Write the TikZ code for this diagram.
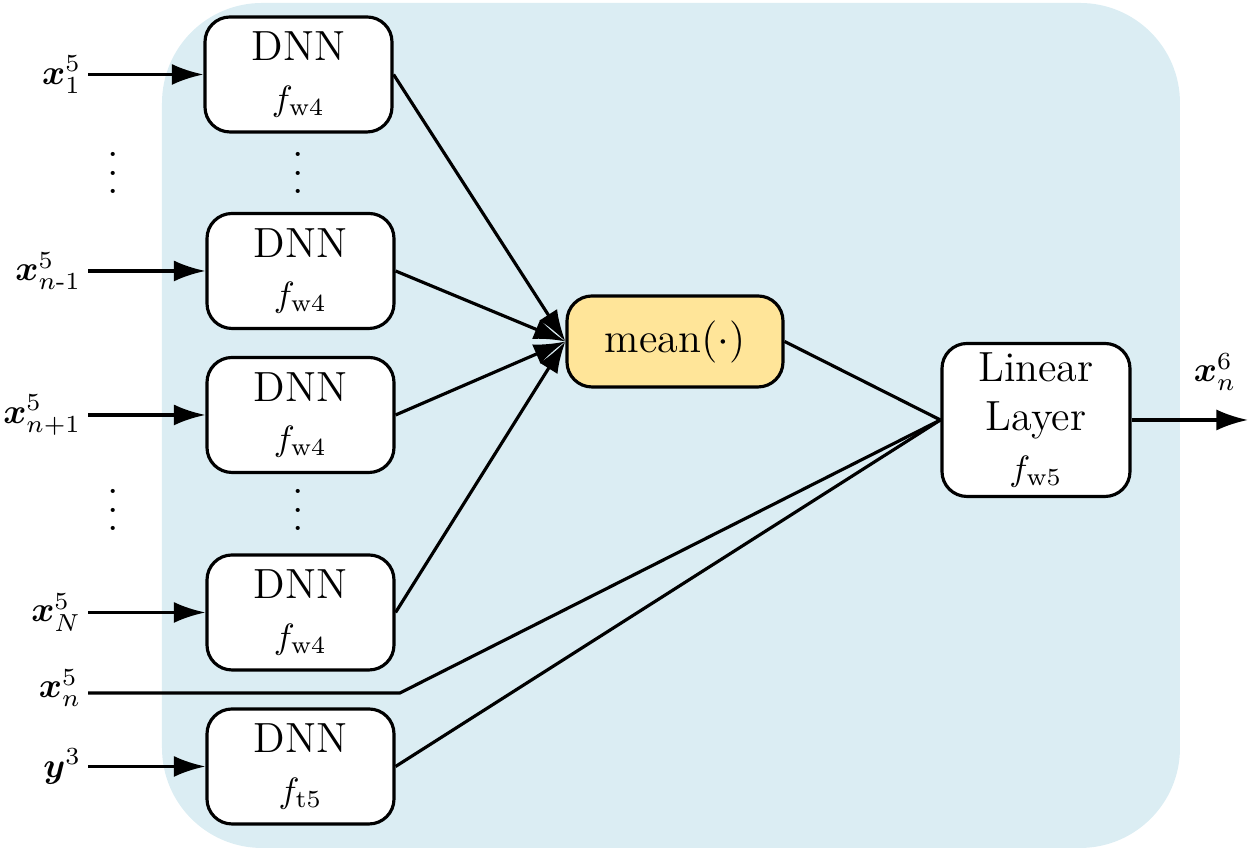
\documentclass[tikz,border=0pt]{standalone}
\usepackage{amsmath}
\usepackage{bm}
\usetikzlibrary{arrows.meta}
\definecolor{bgblue}{HTML}{DBEDF3}
\definecolor{meanfill}{HTML}{FFE599}
\newcommand{\tdots}{\vbox{\baselineskip5.4pt\lineskiplimit0pt\hbox{.}\hbox{.}\hbox{.}}}

\begin{document}
\begin{tikzpicture}[line width=0.9pt,
box/.style={draw,fill=white,rounded corners=2.5mm,align=center,font=\large,
minimum width=1.87cm,minimum height=1.15cm,inner sep=0pt},
arr/.style={-{Latex[length=9pt,width=6pt]}},
lbl/.style={anchor=east,inner sep=1.5pt}]
\useasboundingbox (0,0) rectangle (12.6,8.5);
\fill[bgblue,rounded corners=1cm] (1.62,0.02) rectangle (11.80,8.47);

\node[box] (dnn1) at (2.985,7.755) {DNN\\\normalsize$f_{\mathrm{w4}}$};
\node[box] (dnn2) at (3.005,5.79) {DNN\\\normalsize$f_{\mathrm{w4}}$};
\node[box] (dnn3) at (3.005,4.35) {DNN\\\normalsize$f_{\mathrm{w4}}$};
\node[box] (dnn4) at (3.005,2.375) {DNN\\\normalsize$f_{\mathrm{w4}}$};
\node[box] (dnn5) at (3.005,0.835) {DNN\\\normalsize$f_{\mathrm{t5}}$};
\node[box,fill=meanfill,minimum width=2.16cm,minimum height=0.91cm] (mean)
at (6.75,5.085) {mean$(\cdot)$};
\node[box,minimum width=1.88cm,minimum height=1.53cm] (lin)
at (10.36,4.3) {Linear\\Layer\\\normalsize$f_{\mathrm{w5}}$};

\node[font=\large] (vd1) at (1.13,6.77) {\tdots};
\node[font=\large] (vd2) at (2.98,6.77) {\tdots};
\node[font=\large] (vd3) at (1.13,3.4) {\tdots};
\node[font=\large] (vd4) at (2.98,3.4) {\tdots};

\foreach \i/\t in {1/{\bm{x}_1^5},2/{\bm{x}_{n\text{-}1}^5},3/{\bm{x}_{n+1}^5},4/{\bm{x}_N^5},5/{\bm{y}^3}} {
  \coordinate (in\i) at (0.88,0 |- dnn\i.west);
  \node[lbl] (lab\i) at (in\i) {$\t$};
  \draw[arr] (in\i) -- (dnn\i.west);
}
\foreach \i in {1,...,4}
  \draw[arr] (dnn\i.east) -- (mean.west);

\coordinate (inn) at (0.88,1.57);
\coordinate (bend) at (4.0,1.57);
\node[lbl] (labn) at (0.88,1.62) {$\bm{x}_n^5$};
\draw (inn) -- (bend) -- (lin.west);
\draw (mean.east) -- (lin.west);
\draw (dnn5.east) -- (lin.west);

\coordinate (out) at (12.48,0 |- lin.east);
\draw[arr] (lin.east) -- (out);
\node (outlab) at (12.15,4.78) {$\bm{x}_n^6$};
\end{tikzpicture}
\end{document}
